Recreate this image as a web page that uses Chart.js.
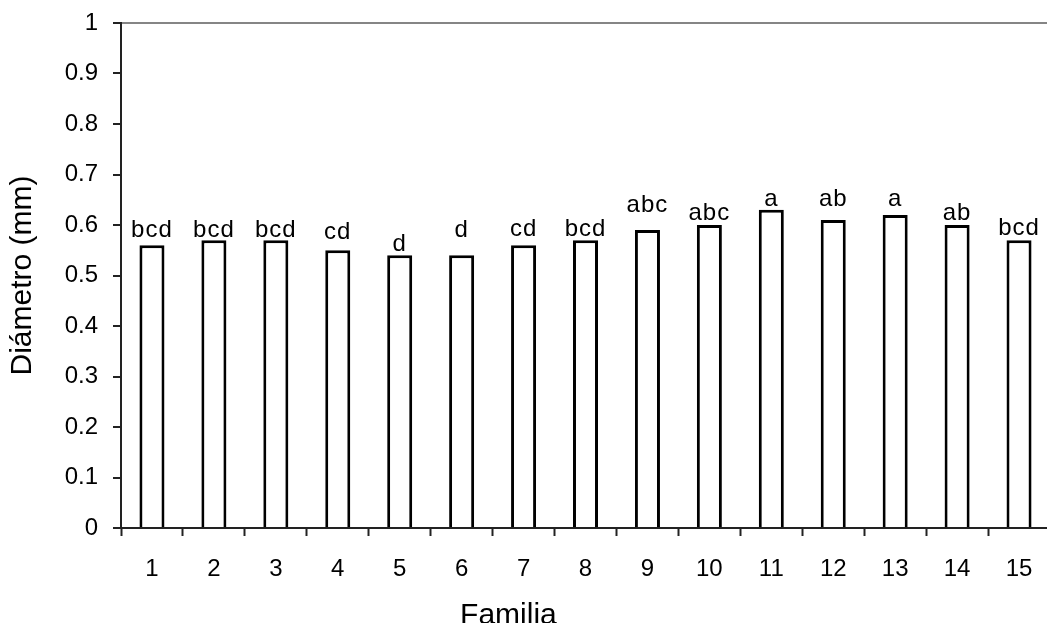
<!DOCTYPE html>
<html>
<head>
<meta charset="utf-8">
<script src="https://cdn.jsdelivr.net/npm/chart.js@4/dist/chart.umd.min.js"></script>
<style>
  html, body { margin: 0; padding: 0; background: #fff; overflow: hidden; }
  #wrap { width: 1060px; height: 623px; }
</style>
</head>
<body>
<div id="wrap"><canvas id="c" width="1060" height="623"></canvas></div>
<script>
// Diámetro medio por familia con agrupación de Tukey
const familias = ['1','2','3','4','5','6','7','8','9','10','11','12','13','14','15'];
const diametro = [0.56, 0.57, 0.57, 0.55, 0.54, 0.54, 0.56, 0.57, 0.59, 0.60, 0.63, 0.61, 0.62, 0.60, 0.57];
const grupos   = ['bcd','bcd','bcd','cd','d','d','cd','bcd','abc','abc','a','ab','a','ab','bcd'];
// nivel (en mm) sobre el que se apoya cada letra
const nivelLetra = [0.577, 0.577, 0.577, 0.572, 0.549, 0.577, 0.578, 0.578, 0.626, 0.609, 0.638, 0.638, 0.638, 0.610, 0.580];
const yTicks = [0, 0.1, 0.2, 0.3, 0.4, 0.5, 0.6, 0.7, 0.8, 0.9, 1];

const FONT = '"Liberation Sans", Arial, sans-serif';

const letrasPlugin = {
  id: 'letras',
  afterDatasetsDraw(chart) {
    const { ctx, scales: { y } } = chart;
    const meta = chart.getDatasetMeta(0);
    ctx.save();
    ctx.fillStyle = '#000';
    ctx.font = '24px ' + FONT;
    if ('letterSpacing' in ctx) ctx.letterSpacing = '1px';
    ctx.textAlign = 'center';
    ctx.textBaseline = 'alphabetic';
    meta.data.forEach((bar, i) => {
      ctx.fillText(grupos[i], bar.x, y.getPixelForValue(nivelLetra[i]));
    });
    ctx.restore();
  }
};

const tituloXPlugin = {
  id: 'tituloX',
  afterDraw(chart) {
    const { ctx, chartArea } = chart;
    ctx.save();
    ctx.fillStyle = '#000';
    ctx.font = '30px ' + FONT;
    ctx.textAlign = 'center';
    ctx.textBaseline = 'alphabetic';
    const cx = chartArea.left + (chartArea.right - chartArea.left) * 0.417;
    ctx.fillText('Familia', cx, chart.height + 0.5);
    ctx.restore();
  }
};

new Chart(document.getElementById('c'), {
  type: 'bar',
  data: {
    labels: familias,
    datasets: [{
      data: diametro,
      backgroundColor: '#ffffff',
      borderColor: '#000000',
      borderWidth: 3,
      borderSkipped: 'bottom',
      barPercentage: 0.404,
      categoryPercentage: 1.0
    }]
  },
  options: {
    responsive: false,
    animation: false,
    layout: { padding: { top: 23, right: 10, left: 0, bottom: 0 } },
    plugins: {
      legend: { display: false },
      tooltip: { enabled: false }
    },
    scales: {
      x: {
        offset: true,
        grid: {
          offset: true,
          drawOnChartArea: false,
          drawTicks: true,
          tickLength: 8,
          tickColor: '#222',
          tickWidth: 2
        },
        border: { color: '#222', width: 2 },
        ticks: {
          color: '#000',
          font: { family: FONT, size: 24 },
          padding: 19,
          maxRotation: 0
        },
        afterFit(s) { s.height = 95; s.paddingLeft = 0; s.paddingRight = 0; }
      },
      y: {
        min: 0,
        max: 1,
        afterBuildTicks(s) { s.ticks = yTicks.map(v => ({ value: v })); },
        grid: {
          drawOnChartArea: true,
          color: (c) => (c.tick && c.tick.value === 1) ? '#858585' : 'rgba(0,0,0,0)',
          lineWidth: 2,
          tickColor: '#222',
          tickLength: 8,
          tickWidth: 2
        },
        border: { color: '#222', width: 2 },
        ticks: {
          color: '#000',
          font: { family: FONT, size: 24 },
          padding: 15,
          callback: (v) => String(v)
        },
        title: {
          display: true,
          text: 'Diámetro (mm)',
          color: '#000',
          font: { family: FONT, size: 30 },
          padding: { top: 5, bottom: 0 }
        },
        afterFit(s) { s.width = 121; s.paddingTop = 0; s.paddingBottom = 0; }
      }
    }
  },
  plugins: [letrasPlugin, tituloXPlugin]
});
</script>
</body>
</html>
